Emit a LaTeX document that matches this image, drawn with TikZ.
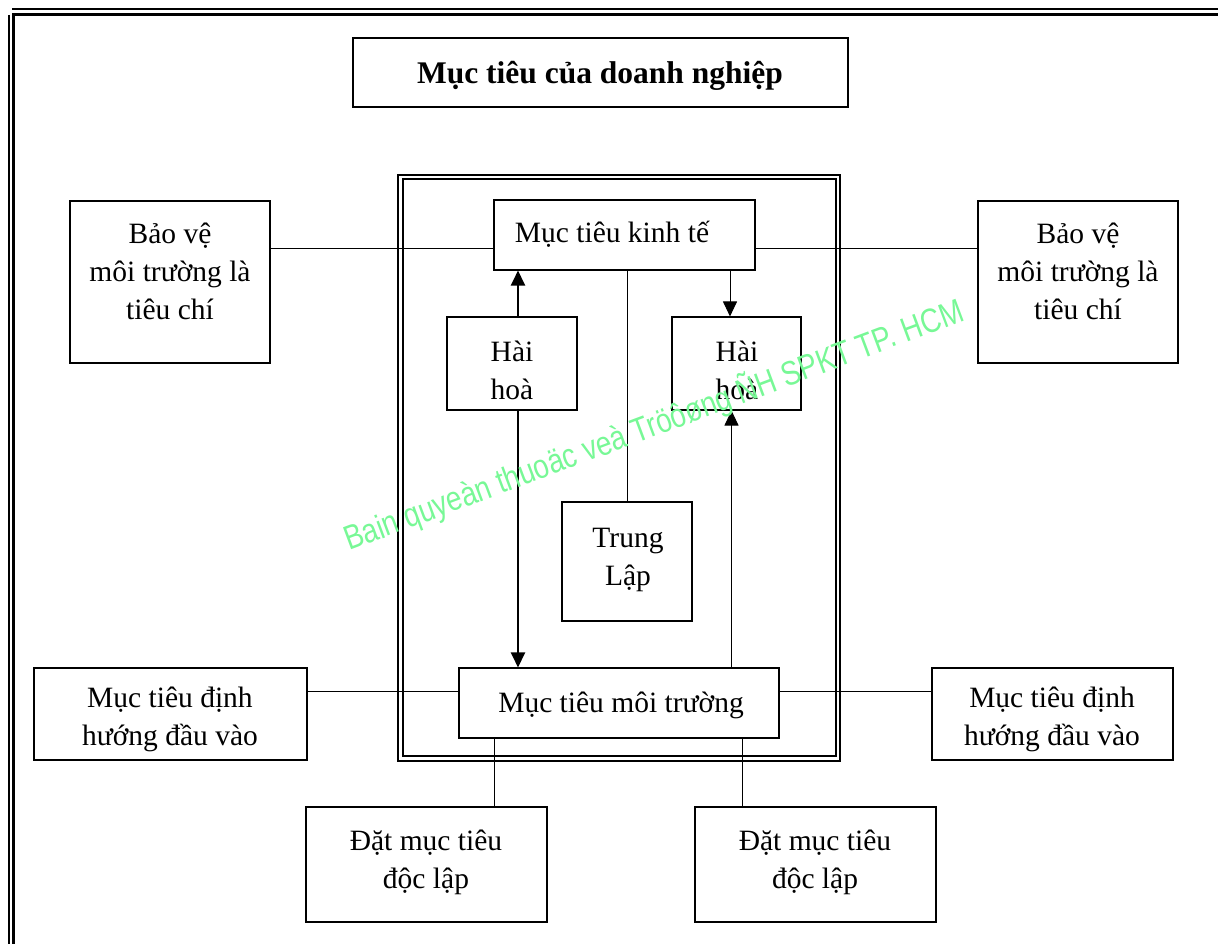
\documentclass[tikz,border=0pt]{standalone}
\usepackage{fontspec}
\setmainfont{Liberation Serif}
\newfontfamily\wmfont{Liberation Sans}
\usetikzlibrary{arrows.meta}
\definecolor{wmgreen}{RGB}{120,248,150}
\tikzset{
  box/.style={draw, line width=1.1pt, inner sep=0pt, fill=white},
  txt/.style={align=center, inner sep=0pt, font=\fontsize{29.5}{38}\selectfont},
  conn/.style={line width=1pt},
  bigconn/.style={line width=2.4pt},
  arr/.style={-{Triangle[length=15pt,width=14pt]}},
  wm/.style={inner sep=0pt, text=wmgreen, font=\wmfont\fontsize{34}{36}\selectfont},
}
\begin{document}
\begin{tikzpicture}[x=1pt,y=-1pt]
\useasboundingbox (0,0) rectangle (1218,944);
% page frame
\draw[line width=2pt] (12,9) -- (1218,9);
\draw[line width=3pt] (12,14.5) -- (1218,14.5);
\draw[line width=2pt] (8.5,15) -- (8.5,944);
\draw[line width=3pt] (13.5,15) -- (13.5,944);
% inner double frame
\draw[line width=1.6pt] (398,175) rectangle (840,761);
\draw[line width=2pt] (403,179) rectangle (836,756);
% boxes
\node[box, minimum width=495pt, minimum height=69pt] (T) at (600.5,72.5) {};
\node[box, minimum width=200pt, minimum height=162pt] (BVL) at (170,282) {};
\node[box, minimum width=200pt, minimum height=162pt] (BVR) at (1078,282) {};
\node[box, minimum width=261pt, minimum height=70pt] (KT) at (624.5,235) {};
\node[box, minimum width=130pt, minimum height=93pt] (HH1) at (512,363.5) {};
\node[box, minimum width=129pt, minimum height=93pt] (HH2) at (736.5,363.5) {};
\node[box, minimum width=130pt, minimum height=119pt] (TL) at (627,561.5) {};
\node[box, minimum width=320pt, minimum height=70pt] (MT) at (619,703) {};
\node[box, minimum width=273pt, minimum height=92pt] (DHL) at (170.5,714) {};
\node[box, minimum width=241pt, minimum height=92pt] (DHR) at (1052.5,714) {};
\node[box, minimum width=241pt, minimum height=115pt] (DL) at (426.5,864.5) {};
\node[box, minimum width=241pt, minimum height=115pt] (DR) at (815.5,864.5) {};
% texts
\node[txt, font=\fontsize{31.5}{38}\selectfont\bfseries] (tT) at (600,76) {Mục tiêu của doanh nghiệp};
\node[txt] (tBVL) at (170,271) {Bảo vệ\\môi trường là\\tiêu chí};
\node[txt] (tBVR) at (1078,271) {Bảo vệ\\môi trường là\\tiêu chí};
\node[txt] (tKT) at (612,234) {Mục tiêu kinh tế};
\node[txt] (tHH1) at (512,370) {Hài\\hoà};
\node[txt] (tHH2) at (737,370) {Hài\\hoà};
\node[txt] (tTL) at (628,560) {Trung\\Lập};
\node[txt] (tMT) at (621,705) {Mục tiêu môi trường};
\node[txt] (tDHL) at (170,719) {Mục tiêu định\\hướng đầu vào};
\node[txt] (tDHR) at (1052,719) {Mục tiêu định\\hướng đầu vào};
\node[txt] (tDL) at (426,862) {Đặt mục tiêu\\độc lập};
\node[txt] (tDR) at (815,862) {Đặt mục tiêu\\độc lập};
% connectors
\draw[conn] ([yshift=34pt]BVL.east) -- ([yshift=-13pt]KT.west);
\draw[conn] ([yshift=-13pt]KT.east) -- ([yshift=34pt]BVR.west);
\draw[conn] (TL.north) -- (TL.north |- KT.south);
\coordinate (a1) at ([xshift=6pt]HH1.north);
\coordinate (a2) at ([xshift=6pt]HH1.south);
\draw[bigconn, arr] (a1) -- (a1 |- KT.south);
\draw[bigconn, arr] (a2) -- (a2 |- MT.north);
\coordinate (b1) at ([xshift=-6.5pt]HH2.north);
\coordinate (b2) at ([xshift=-5pt]HH2.south);
\draw[conn, arr] (b1 |- KT.south) -- (b1);
\draw[conn, arr] (b2 |- MT.north) -- (b2);
\draw[conn] ([yshift=23pt]DHL.east) -- ([yshift=12pt]MT.west);
\draw[conn] ([yshift=12pt]MT.east) -- ([yshift=23pt]DHR.west);
\coordinate (c1) at ([xshift=-125pt]MT.south);
\coordinate (c2) at ([xshift=123pt]MT.south);
\draw[conn] (c1) -- (c1 |- DL.north);
\draw[conn] (c2) -- (c2 |- DR.north);
% watermark
\node[wm, rotate=20.5, anchor=base west, xscale=0.82] (W) at (349,551) {Bain quyeàn thuoäc veà Tröôøng ÑH SPKT TP. HCM};
\end{tikzpicture}
\end{document}
